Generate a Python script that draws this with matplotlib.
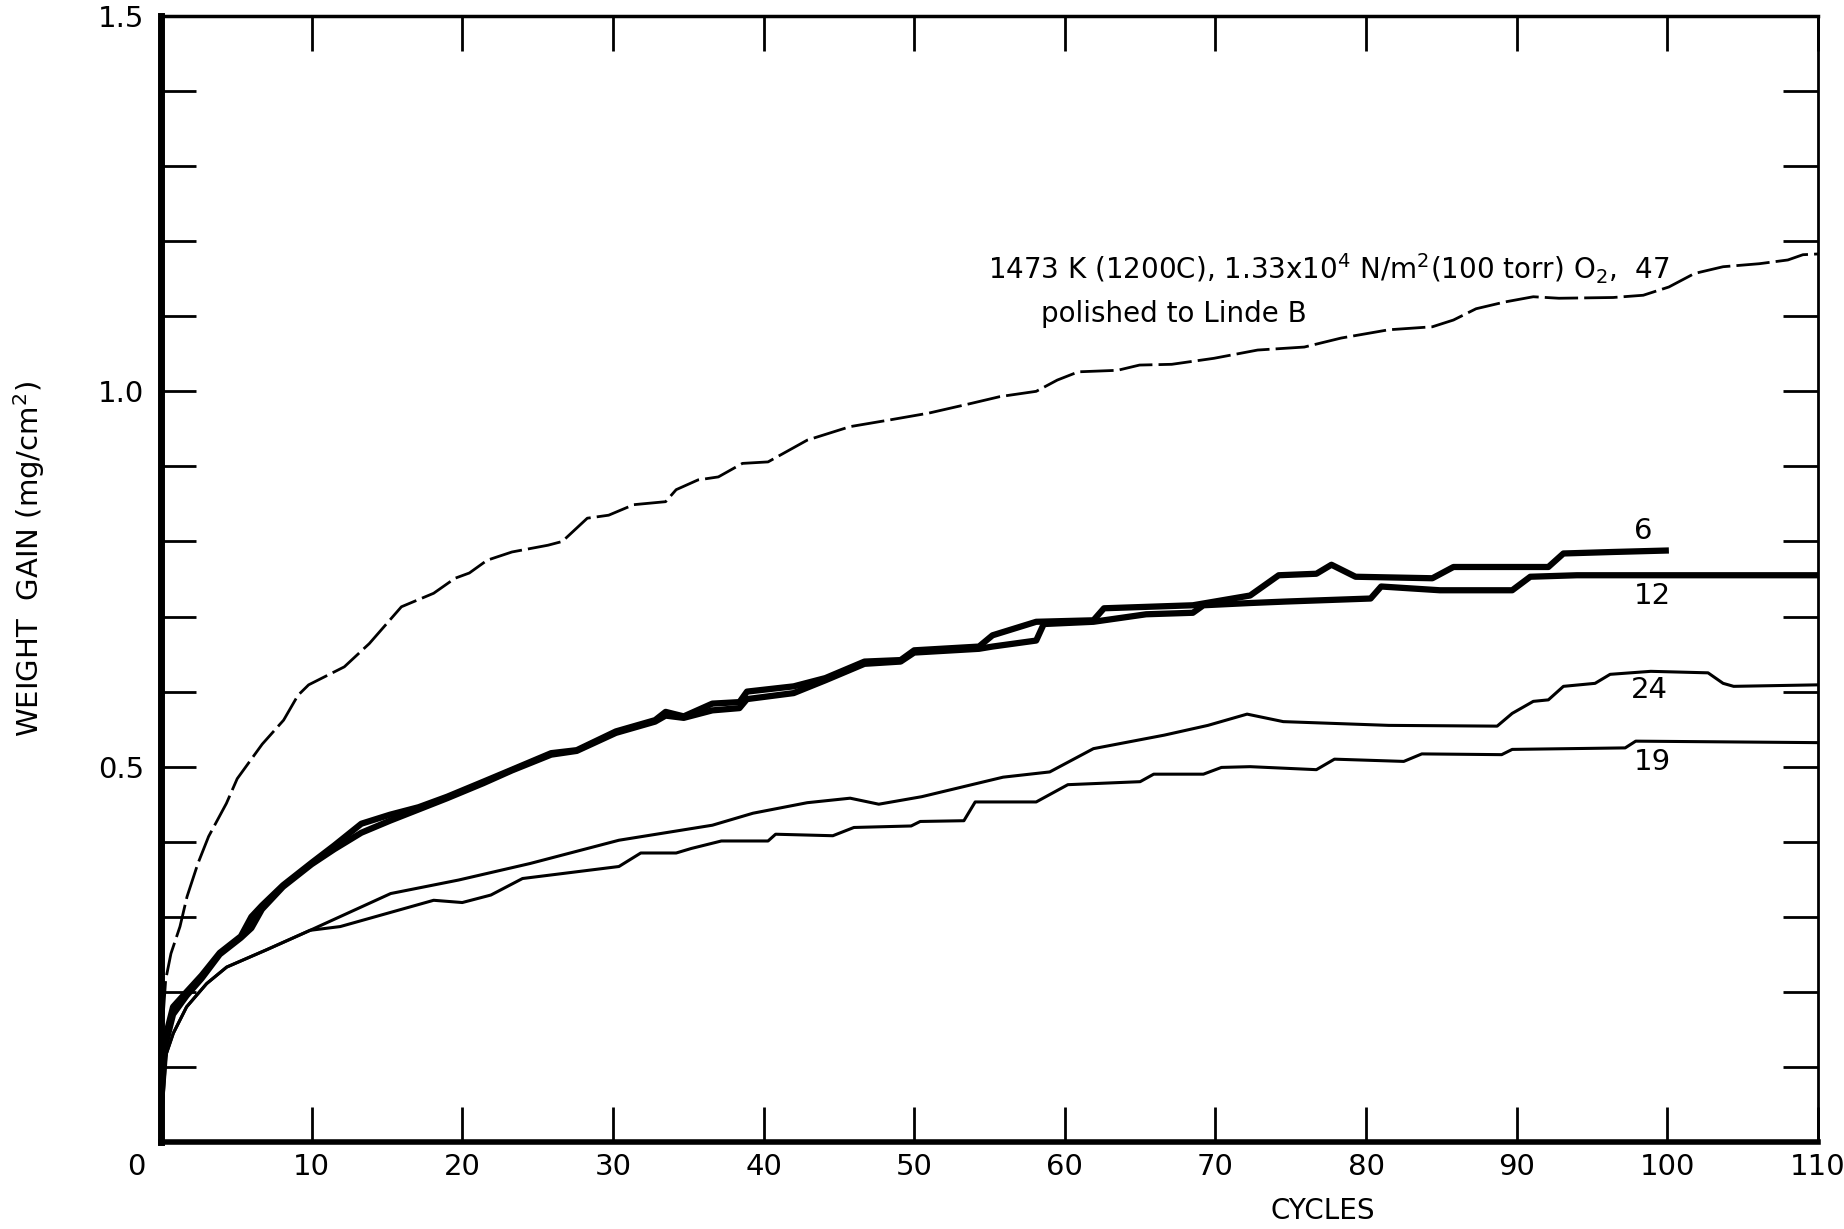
import matplotlib
matplotlib.use("Agg")
import matplotlib.pyplot as plt
import numpy as np

plt.rcParams['font.family'] = ['DejaVu Sans']
plt.rcParams['mathtext.default'] = 'regular'

# ---- data ----
x47 = [0.15, 0.31, 0.66, 1.26, 1.73, 2.45, 3.16, 4.34, 5.06, 6.72, 8.14, 9.09, 9.8, 12.17, 13.83,
       15.96, 18.1, 19.52, 20.47, 21.65, 23.3, 25.69, 26.64, 28.3, 29.72, 31.38, 33.5, 34.2, 35.65,
       37.0, 38.6, 40.3, 42.9, 45.75, 48.4, 50.97, 53.8, 55.7, 58.1, 59.5, 60.9, 63.5, 64.96, 67.1,
       69.9, 72.8, 75.9, 78.35, 81.5, 84.4, 85.8, 87.3, 89.2, 91.1, 92.8, 96.4, 98.4, 100.1, 101.8,
       103.7, 106.1, 108.0, 109.0, 110.0]
y47 = [0.17, 0.216, 0.251, 0.287, 0.327, 0.371, 0.407, 0.451, 0.484, 0.53, 0.562, 0.595, 0.609,
       0.633, 0.664, 0.713, 0.731, 0.751, 0.758, 0.775, 0.786, 0.795, 0.80, 0.831, 0.835, 0.849,
       0.853, 0.869, 0.882, 0.886, 0.904, 0.906, 0.935, 0.953, 0.962, 0.971, 0.984, 0.993, 1.0,
       1.015, 1.026, 1.028, 1.035, 1.036, 1.044, 1.055, 1.059, 1.071, 1.082, 1.086, 1.095, 1.11,
       1.119, 1.126, 1.124, 1.125, 1.128, 1.139, 1.157, 1.166, 1.17, 1.175, 1.182, 1.183]

x6 = [0, 0.3, 0.8, 1.7, 2.7, 3.9, 5.3, 6.0, 6.7, 8.1, 10.0, 11.5, 13.3, 15.2, 17.1, 19.0, 21.4,
      23.3, 25.9, 27.6, 30.2, 32.8, 33.5, 34.7, 36.6, 38.4, 38.9, 42.0, 44.1, 46.7, 49.1, 50.0,
      54.3, 55.2, 58.1, 61.9, 62.6, 68.5, 72.3, 74.2, 76.7, 77.7, 79.3, 84.4, 85.8, 92.1, 93.1,
      96.4, 100.1]
y6 = [0.05, 0.14, 0.18, 0.20, 0.222, 0.252, 0.274, 0.30, 0.315, 0.342, 0.372, 0.395, 0.424, 0.436,
      0.446, 0.46, 0.48, 0.496, 0.518, 0.522, 0.547, 0.562, 0.573, 0.567, 0.584, 0.586, 0.600,
      0.607, 0.618, 0.64, 0.642, 0.655, 0.66, 0.675, 0.693, 0.695, 0.711, 0.715, 0.728, 0.755,
      0.757, 0.769, 0.753, 0.751, 0.766, 0.766, 0.784, 0.786, 0.788]

x12 = [0, 0.3, 0.8, 1.7, 2.7, 3.9, 5.3, 6.0, 6.7, 8.1, 10.0, 11.5, 13.3, 15.2, 17.1, 19.0, 21.4,
       23.3, 25.9, 27.6, 30.2, 32.8, 33.5, 34.7, 36.6, 38.4, 38.9, 42.0, 44.1, 46.7, 49.1, 50.0,
       54.3, 55.2, 58.1, 58.6, 61.9, 65.4, 68.5, 69.2, 72.3, 74.7, 80.3, 81.0, 84.9, 89.7, 90.9,
       94.0, 110]
y12 = [0.05, 0.13, 0.17, 0.195, 0.218, 0.25, 0.272, 0.285, 0.31, 0.34, 0.37, 0.39, 0.412, 0.428,
       0.443, 0.458, 0.478, 0.495, 0.516, 0.521, 0.545, 0.56, 0.568, 0.565, 0.575, 0.578, 0.59,
       0.598, 0.615, 0.637, 0.64, 0.652, 0.657, 0.66, 0.668, 0.69, 0.693, 0.703, 0.705, 0.715,
       0.718, 0.72, 0.724, 0.74, 0.735, 0.735, 0.753, 0.755, 0.755]

x24 = [0, 0.31, 0.82, 1.7, 3.03, 4.36, 7.0, 9.9, 15.25, 19.76, 24.5, 30.4, 36.6, 39.3, 42.9, 45.75,
       47.65, 50.5, 55.9, 59.0, 61.9, 66.6, 69.5, 72.1, 74.5, 81.5, 88.7, 89.7, 91.1, 92.1, 93.1,
       95.2, 96.2, 98.9, 102.7, 103.7, 104.4, 110]
y24 = [0.06, 0.115, 0.145, 0.18, 0.211, 0.233, 0.256, 0.282, 0.331, 0.349, 0.371, 0.402, 0.422,
       0.438, 0.452, 0.458, 0.45, 0.46, 0.486, 0.493, 0.524, 0.542, 0.555, 0.57, 0.56, 0.555,
       0.554, 0.571, 0.587, 0.589, 0.607, 0.611, 0.623, 0.627, 0.625, 0.611, 0.607, 0.609]

x19 = [0, 0.31, 0.82, 1.7, 3.03, 4.36, 7.0, 9.9, 11.9, 18.1, 20.0, 21.9, 24.0, 30.4, 31.85, 34.2,
       35.2, 37.2, 40.3, 40.8, 44.6, 46.0, 49.8, 50.4, 53.3, 54.05, 58.1, 60.2, 65.0, 65.9, 69.2,
       70.4, 72.3, 76.7, 77.9, 82.5, 83.7, 89.0, 89.7, 97.2, 97.9, 110]
y19 = [0.06, 0.115, 0.145, 0.18, 0.211, 0.233, 0.256, 0.282, 0.287, 0.322, 0.319, 0.329, 0.351,
       0.367, 0.385, 0.385, 0.391, 0.401, 0.401, 0.41, 0.408, 0.419, 0.421, 0.427, 0.428, 0.453,
       0.453, 0.476, 0.48, 0.49, 0.49, 0.499, 0.50, 0.496, 0.51, 0.507, 0.517, 0.516, 0.523,
       0.525, 0.534, 0.532]

curve_labels = ["6", "12", "24", "19"]
label_x = [98.4, 99.0, 98.8, 99.0]
label_y = [0.814, 0.727, 0.602, 0.506]

x_ticks = [0, 10, 20, 30, 40, 50, 60, 70, 80, 90, 100, 110]
x_ticklabels = ["", "10", "20", "30", "40", "50", "60", "70", "80", "90", "100", "110"]
y_ticks = [round(0.1 * i, 1) for i in range(16)]
y_ticklabels = {0.5: "0.5", 1.0: "1.0", 1.5: "1.5"}

title_line1 = r"1473 K (1200C), 1.33x10$^4$ N/m$^2$(100 torr) O$_2$,  47"
title_line2 = "polished to Linde B"

# ---- figure ----
fig = plt.figure(figsize=(18.44, 12.29), dpi=100)
ax = fig.add_axes([161 / 1844, 1 - 1142 / 1229, (1818 - 161) / 1844, (1142 - 16) / 1229])
ax.set_xlim(0, 110)
ax.set_ylim(0, 1.5)

ax.plot(x47, y47, color='black', lw=2.0, dashes=(12, 2.2), solid_joinstyle='round')
ax.plot(x6, y6, color='black', lw=4.5, solid_joinstyle='round', solid_capstyle='butt')
ax.plot(x12, y12, color='black', lw=4.5, solid_joinstyle='round', solid_capstyle='butt')
ax.plot(x24, y24, color='black', lw=2.2, solid_joinstyle='round')
ax.plot(x19, y19, color='black', lw=2.2, solid_joinstyle='round')

for t, lx, ly in zip(curve_labels, label_x, label_y):
    ax.text(lx, ly, t, fontsize=21, ha='center', va='center')

ax.text(54.9, 1.164, title_line1, fontsize=20, ha='left', va='center')
ax.text(58.4, 1.103, title_line2, fontsize=20, ha='left', va='center')

# spines
ax.spines['left'].set_linewidth(5)
ax.spines['bottom'].set_linewidth(4)
ax.spines['top'].set_linewidth(2.5)
ax.spines['right'].set_linewidth(2)

ax.set_xticks(x_ticks)
ax.set_xticklabels(x_ticklabels, fontsize=21)
ax.set_yticks(y_ticks)
ax.set_yticklabels([y_ticklabels.get(v, "") for v in y_ticks], fontsize=21)
ax.tick_params(axis='both', direction='in', length=25, width=2, top=True, right=True)
ax.tick_params(axis='x', pad=8)
ax.tick_params(axis='y', pad=12)

ax.annotate("0", xy=(0, 0), xycoords='data', xytext=(-18, -8), textcoords='offset points',
            ha='center', va='top', fontsize=21)

ax.set_xlabel("CYCLES", fontsize=20)
ax.xaxis.set_label_coords((1323 - 161) / (1818 - 161), -(1197 - 1142) / (1142 - 16))
ax.set_ylabel("WEIGHT  GAIN (mg/cm$^2$)", fontsize=21)
ax.yaxis.set_label_coords(-(161 - 47) / (1818 - 161), (1142 - 559) / (1142 - 16))

fig.savefig("out.png", dpi=100)
